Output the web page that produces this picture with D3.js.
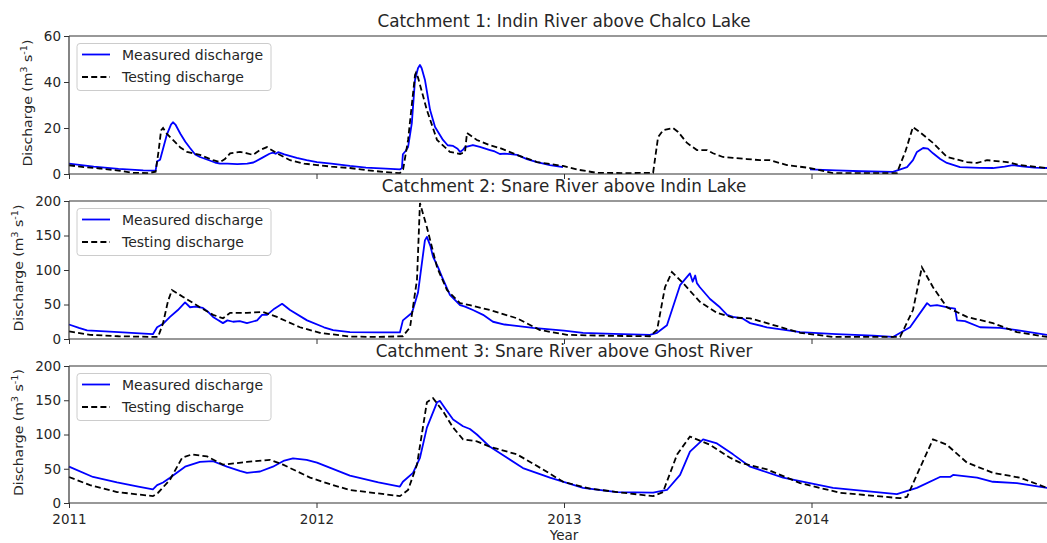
<!DOCTYPE html>
<html><head><meta charset="utf-8">
<script src="https://cdn.jsdelivr.net/npm/d3@7"></script>
<style>
body{margin:0;background:#fff;}
svg{display:block;font-family:"DejaVu Sans",sans-serif;}
</style></head><body><svg id="chart" width="1047" height="543"></svg>
<script>
// ---------------- data ----------------
const titles = [
  "Catchment 1: Indin River above Chalco Lake",
  "Catchment 2: Snare River above Indin Lake",
  "Catchment 3: Snare River above Ghost River"
];
const seriesNames = ["Measured discharge", "Testing discharge"];
const xTicks = [2011, 2012, 2013, 2014];
const yTicks1 = [0, 20, 40, 60];
const yTicks2 = [0, 50, 100, 150, 200];
const yTicks3 = [0, 50, 100, 150, 200];
const xLabel = "Year";

const measured1 = [[2011.000,4.5],[2011.100,3.2],[2011.200,2.2],[2011.300,1.6],[2011.350,1.5],[2011.356,5.5],[2011.368,6.2],[2011.380,11],[2011.395,17],[2011.412,21.5],[2011.420,22.5],[2011.430,21.5],[2011.450,17.5],[2011.470,14],[2011.489,11.3],[2011.510,8.5],[2011.529,7.4],[2011.560,6.2],[2011.590,5],[2011.610,4.5],[2011.640,4.5],[2011.680,4.3],[2011.720,4.5],[2011.745,5],[2011.780,7],[2011.810,8.8],[2011.824,9.3],[2011.835,8.8],[2011.845,9.5],[2011.870,8.5],[2011.920,7],[2011.960,6],[2012.002,5.2],[2012.060,4.5],[2012.135,3.5],[2012.200,2.8],[2012.280,2.3],[2012.337,2],[2012.345,2.5],[2012.349,8.6],[2012.360,10],[2012.370,11.7],[2012.385,22],[2012.398,40.9],[2012.410,46],[2012.418,47.4],[2012.425,46],[2012.438,41],[2012.459,27.8],[2012.479,20.4],[2012.511,14.8],[2012.530,12.5],[2012.552,12.2],[2012.570,11],[2012.580,9.6],[2012.592,10.5],[2012.600,11.7],[2012.632,12.6],[2012.660,11.8],[2012.701,10.4],[2012.720,9.8],[2012.741,8.7],[2012.760,8.9],[2012.810,8.3],[2012.850,6.5],[2012.891,5.2],[2012.943,3.9],[2012.996,3],
  [2013.500,null],
  [2013.994,2],[2014.100,1.6],[2014.200,1.2],[2014.329,0.9],[2014.386,3],[2014.410,6],[2014.426,9.6],[2014.451,11.3],[2014.470,11],[2014.491,9],[2014.520,6.5],[2014.547,4.8],[2014.600,3],[2014.680,2.7],[2014.733,2.6],[2014.780,3.2],[2014.814,3.9],[2014.850,3.3],[2014.900,2.8],[2014.952,2.6]];
const testing1 = [[2011.000,3.8],[2011.060,3],[2011.125,2.4],[2011.200,1.5],[2011.259,0.5],[2011.320,0.4],[2011.350,1],[2011.362,10],[2011.372,19],[2011.380,20],[2011.395,17.5],[2011.420,14.8],[2011.450,11.5],[2011.477,9.6],[2011.529,8.3],[2011.582,6],[2011.610,5.2],[2011.630,6.5],[2011.651,9],[2011.691,9.6],[2011.720,9],[2011.743,8.3],[2011.772,10.4],[2011.800,11.7],[2011.840,9],[2011.893,6],[2011.950,4.5],[2012.002,3.9],[2012.060,3.2],[2012.135,2.6],[2012.200,1.7],[2012.280,0.8],[2012.337,0.4],[2012.350,2],[2012.370,14.8],[2012.385,30],[2012.398,43],[2012.402,44],[2012.410,42],[2012.446,27.8],[2012.487,14.8],[2012.539,9.6],[2012.580,8.7],[2012.600,9.5],[2012.608,17.8],[2012.648,14.8],[2012.700,12.5],[2012.741,11.3],[2012.810,8.3],[2012.891,5.2],[2012.996,3.5],[2013.060,1.8],[2013.133,0.5],[2013.250,0.4],[2013.360,0.5],[2013.380,16],[2013.400,19],[2013.440,20],[2013.461,18.3],[2013.497,13.5],[2013.537,10.4],[2013.578,10.4],[2013.602,9],[2013.642,7.4],[2013.683,7],[2013.739,6.5],[2013.792,6],[2013.832,6],[2013.901,3.9],[2013.994,2.6],[2014.087,0.4],[2014.345,0.4],[2014.380,10],[2014.410,20.4],[2014.440,18],[2014.491,13.5],[2014.547,7.4],[2014.628,5.2],[2014.669,4.8],[2014.709,6],[2014.790,5.2],[2014.842,3.9],[2014.952,2.6]];

const measured2 = [[2011.000,21],[2011.040,16],[2011.073,12.5],[2011.200,10],[2011.339,7],[2011.356,17],[2011.380,22],[2011.408,32],[2011.440,42],[2011.469,53],[2011.489,46],[2011.510,47],[2011.541,45],[2011.560,40],[2011.582,32],[2011.600,28],[2011.622,23],[2011.640,27],[2011.663,25],[2011.690,26],[2011.719,23],[2011.740,25],[2011.760,27],[2011.780,35],[2011.800,35],[2011.830,44],[2011.861,51],[2011.893,42],[2011.962,27],[2012.030,17],[2012.067,13],[2012.135,10],[2012.250,9.5],[2012.337,9.5],[2012.349,27],[2012.386,38],[2012.410,67],[2012.438,143],[2012.446,148],[2012.460,135],[2012.471,119],[2012.490,105],[2012.507,90],[2012.539,64],[2012.580,49],[2012.600,47],[2012.632,42],[2012.673,35],[2012.713,25],[2012.760,21],[2012.782,20],[2012.875,16],[2013.000,12],[2013.077,9],[2013.200,7.5],[2013.347,6],[2013.376,9],[2013.416,20],[2013.469,78],[2013.497,90],[2013.509,95],[2013.520,83],[2013.530,92],[2013.537,81],[2013.549,75],[2013.590,58],[2013.630,46],[2013.659,35],[2013.683,32],[2013.720,30],[2013.752,23],[2013.820,17],[2013.954,10],[2014.100,7],[2014.250,5],[2014.329,3],[2014.398,17],[2014.467,52],[2014.480,48],[2014.507,49],[2014.560,45],[2014.580,44],[2014.588,27],[2014.620,26],[2014.681,17],[2014.762,16],[2014.830,13],[2014.952,6]];
const testing2 = [[2011.000,11],[2011.085,6],[2011.200,4],[2011.339,3],[2011.360,3],[2011.380,23],[2011.400,55],[2011.416,71],[2011.461,61],[2011.529,46],[2011.582,35],[2011.622,30],[2011.651,38],[2011.719,38],[2011.784,39],[2011.840,32],[2011.933,17],[2012.014,9],[2012.135,3.5],[2012.250,3],[2012.349,4],[2012.378,17],[2012.406,86],[2012.418,197],[2012.446,162],[2012.487,104],[2012.527,71],[2012.580,52],[2012.620,49],[2012.701,42],[2012.810,30],[2012.903,13],[2013.012,6],[2013.200,4.5],[2013.347,4],[2013.376,13],[2013.408,75],[2013.436,97],[2013.481,81],[2013.549,54],[2013.618,38],[2013.683,31],[2013.752,30],[2013.820,23],[2013.954,9],[2014.087,3],[2014.358,3],[2014.410,42],[2014.446,104],[2014.491,75],[2014.547,46],[2014.628,32],[2014.733,23],[2014.830,10],[2014.952,3]];

const measured3 = [[2011.000,53],[2011.097,38],[2011.194,30],[2011.280,24],[2011.339,20],[2011.356,26],[2011.380,30],[2011.408,37],[2011.469,53],[2011.529,60],[2011.582,61],[2011.638,53],[2011.690,47],[2011.719,44],[2011.772,46],[2011.824,53],[2011.870,62],[2011.905,65],[2011.960,63],[2012.002,59],[2012.135,40],[2012.250,30],[2012.337,24],[2012.349,31],[2012.390,44],[2012.418,66],[2012.446,110],[2012.487,147],[2012.499,149],[2012.520,138],[2012.552,122],[2012.592,112],[2012.620,108],[2012.648,100],[2012.701,82],[2012.770,66],[2012.834,51],[2012.943,37],[2013.077,22],[2013.214,16],[2013.360,15],[2013.416,19],[2013.469,41],[2013.509,75],[2013.562,93],[2013.618,87],[2013.683,71],[2013.752,53],[2013.885,37],[2014.087,22],[2014.345,13],[2014.426,22],[2014.519,38],[2014.560,38],[2014.572,41],[2014.669,37],[2014.733,31],[2014.830,29],[2014.952,22]];
const testing3 = [[2011.000,38],[2011.085,26],[2011.194,16],[2011.339,10],[2011.360,15],[2011.408,34],[2011.457,66],[2011.497,71],[2011.558,68],[2011.622,56],[2011.719,60],[2011.812,63],[2011.865,56],[2011.974,37],[2012.067,26],[2012.135,19],[2012.337,10],[2012.370,19],[2012.406,56],[2012.446,147],[2012.471,153],[2012.511,134],[2012.552,110],[2012.592,93],[2012.648,90],[2012.701,82],[2012.810,71],[2012.915,49],[2012.996,31],[2013.105,21],[2013.214,16],[2013.360,10],[2013.400,16],[2013.457,71],[2013.509,97],[2013.590,85],[2013.671,66],[2013.711,59],[2013.820,49],[2013.954,29],[2014.115,15],[2014.358,7],[2014.386,9],[2014.438,51],[2014.491,93],[2014.547,85],[2014.628,59],[2014.733,44],[2014.842,37],[2014.952,22]];

// ---------------- layout ----------------
const svg = d3.select("#chart");
const textColor = "#262626";
const left = 69, right = 1059;
const panels = [
  {top:36, bottom:174, yMax:60,  ticks:yTicks1, m:measured1, t:testing1, labelX:32},
  {top:201, bottom:339, yMax:200, ticks:yTicks2, m:measured2, t:testing2, labelX:23},
  {top:366, bottom:503, yMax:200, ticks:yTicks3, m:measured3, t:testing3, labelX:23}
];
const x = d3.scaleLinear().domain([2011, 2015]).range([left, right]);

panels.forEach((p, i) => {
  const y = d3.scaleLinear().domain([0, p.yMax]).range([p.bottom, p.top]);
  const g = svg.append("g");

  g.append("text").attr("x", (left+right)/2).attr("y", p.top - 9)
    .attr("text-anchor","middle").attr("font-size","16.8px").attr("fill",textColor)
    .text(titles[i]);

  const line = d3.line().defined(d => d[1] != null).x(d => x(d[0])).y(d => y(d[1]));
  g.append("path").datum(p.m).attr("d", line).attr("fill","none")
    .attr("stroke","#0000ff").attr("stroke-width",1.8).attr("stroke-linejoin","round");
  g.append("path").datum(p.t).attr("d", line).attr("fill","none")
    .attr("stroke","#000").attr("stroke-width",1.8).attr("stroke-dasharray","6,3.2");

  const ya = g.append("g").attr("transform",`translate(${left},0)`)
    .call(d3.axisLeft(y).tickValues(p.ticks).tickSize(5).tickPadding(3).tickFormat(d3.format("d")));
  ya.select(".domain").remove();
  ya.selectAll("text").attr("font-size","13.5px").attr("fill",textColor).attr("font-family","DejaVu Sans");
  ya.selectAll("line").attr("stroke","#333");

  const xa = g.append("g").attr("transform",`translate(0,${p.bottom})`)
    .call(d3.axisBottom(x).tickValues(xTicks).tickSize(5).tickPadding(6)
      .tickFormat(i === 2 ? d3.format("d") : () => ""));
  xa.select(".domain").remove();
  xa.selectAll("text").attr("font-size","13.5px").attr("fill",textColor).attr("font-family","DejaVu Sans");
  xa.selectAll("line").attr("stroke","#333");

  g.append("line").attr("x1",left).attr("x2",left).attr("y1",p.top).attr("y2",p.bottom).attr("stroke","#333").attr("stroke-width",1.2);
  g.append("line").attr("x1",left).attr("x2",right).attr("y1",p.top).attr("y2",p.top).attr("stroke","#333").attr("stroke-width",1.2);
  g.append("line").attr("x1",left).attr("x2",right).attr("y1",p.bottom).attr("y2",p.bottom).attr("stroke","#333").attr("stroke-width",1.2);

  const cy = (p.top + p.bottom)/2 - 2;
  const yl = g.append("text").attr("transform",`translate(${p.labelX},${cy}) rotate(-90)`)
    .attr("text-anchor","middle").attr("font-size","13px").attr("fill",textColor);
  yl.append("tspan").text("Discharge (m");
  yl.append("tspan").attr("dy",-5).attr("font-size","9px").text("3");
  yl.append("tspan").attr("dy",5).text(" s");
  yl.append("tspan").attr("dy",-5).attr("font-size","9px").text("-1");
  yl.append("tspan").attr("dy",5).text(")");
  yl.attr("textLength",127).attr("lengthAdjust","spacingAndGlyphs");

  const lg = g.append("g").attr("transform",`translate(77,${p.top+7.5})`);
  lg.append("rect").attr("width",194).attr("height",47).attr("rx",3)
    .attr("fill","#fff").attr("fill-opacity",0.8).attr("stroke","#cccccc");
  [["#0000ff",null],["#000","6,3.2"]].forEach((s, k) => {
    const yy = 11 + k*22.5;
    lg.append("line").attr("x1",5).attr("x2",33).attr("y1",yy).attr("y2",yy)
      .attr("stroke",s[0]).attr("stroke-width",1.8).attr("stroke-dasharray",s[1]);
    lg.append("text").attr("x",45).attr("y",yy+5).attr("font-size","14px").attr("fill",textColor)
      .text(seriesNames[k]);
  });
});

svg.append("text").attr("x",(left+right)/2).attr("y",540).attr("text-anchor","middle")
  .attr("font-size","13.5px").attr("fill",textColor).text(xLabel);
</script></body></html>
